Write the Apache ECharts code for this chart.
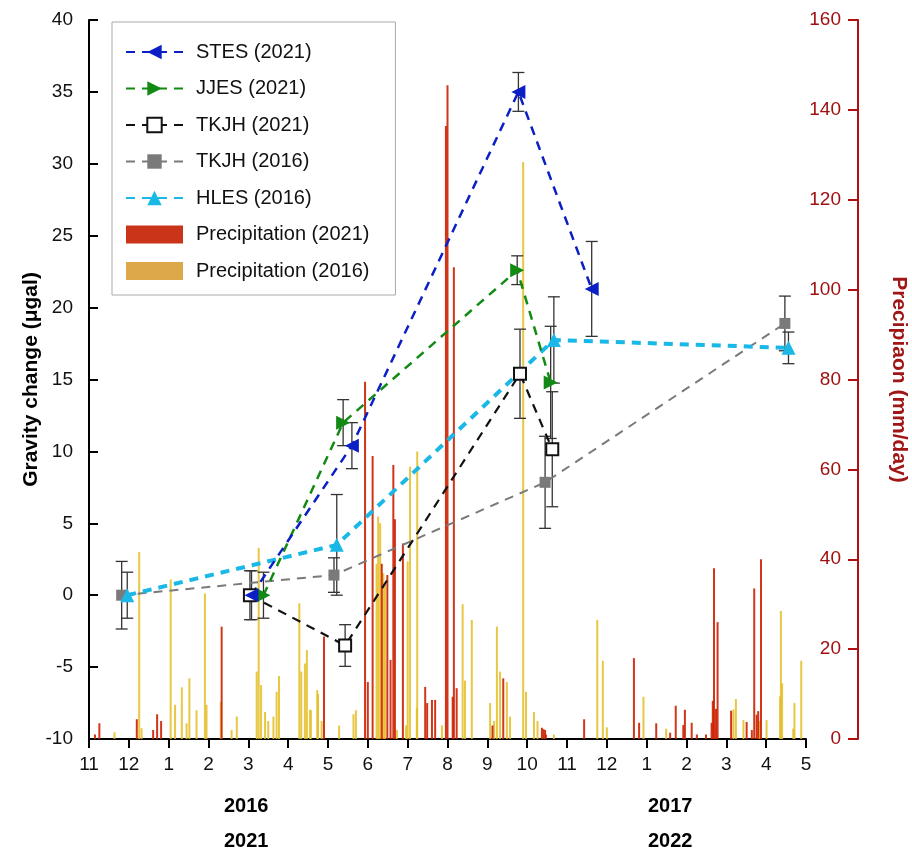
<!DOCTYPE html>
<html><head><meta charset="utf-8">
<script src="https://cdn.jsdelivr.net/npm/echarts@6/dist/echarts.min.js"></script>
<style>html,body{margin:0;padding:0;background:#fff}#c{width:912px;height:850px}</style>
</head><body><div id="c"></div>
<script>
// x = months since 1 Nov (0 = Nov, 18 = May of the year after next)
const monthLabels = ["11","12","1","2","3","4","5","6","7","8","9","10","11","12","1","2","3","4","5"];
// [x, gravity change (µgal), error]
const stes2021 = [[4.08,0,1.7],[6.6,10.4,1.6],[10.78,35.0,1.35],[12.62,21.3,3.3]];
const jjes2021 = [[4.38,0,1.6],[6.38,12.0,1.6],[10.75,22.6,1.0],[11.59,14.8,3.9]];
const tkjh2021 = [[4.04,0,1.7],[6.43,-3.5,1.45],[10.82,15.4,3.1],[11.63,10.15,4.0]];
const tkjh2016 = [[0.82,0,2.35],[6.15,1.4,1.2],[11.45,7.85,3.2],[17.47,18.9,1.9]];
const hles2016 = [[0.96,0,1.6],[6.22,3.5,3.5],[11.67,17.75,3.0],[17.56,17.2,1.1]];
// daily precipitation [x, mm/day]
const precip2021 = [[0.15,1],[0.26,3.5],[1.20,4.4],[1.61,2],[1.71,5.5],[1.81,4],[3.33,25],[5.90,22.8],
 [6.93,79.5],[7.00,12.7],[7.12,63],[7.35,39],[7.49,36.5],[7.57,17.6],[7.64,61],[7.68,48.9],[7.88,43.5],
 [8.44,11.6],[8.49,8],[8.61,8.7],[8.69,8.7],[8.96,136.4],[9.00,145.5],[9.13,9.4],[9.16,105],[9.23,11.3],
 [10.13,3],[10.40,13.5],[11.37,2.5],[11.41,2.2],[11.45,2],[11.47,1],[12.43,4.4],[13.68,18],[13.81,3.6],
 [14.24,3.5],[14.59,1.4],[14.73,7.4],[14.92,3.1],[14.96,6.5],[15.13,3.6],[15.26,1],[15.49,1],[15.63,3.6],
 [15.66,8.5],[15.69,38],[15.74,6.7],[15.78,26],[16.12,6.3],[16.51,3.8],[16.64,2],[16.70,33.5],[16.76,5.4],
 [16.80,6.2],[16.87,40]];
const precip2016 = [[0.64,1.5],[1.26,41.6],[1.32,2.4],[2.05,35.5],[2.16,7.6],[2.33,11.5],[2.45,3.5],[2.52,13.5],
 [2.70,6.4],[2.91,32.4],[2.95,7.6],[3.31,8.3],[3.58,2],[3.71,5],[4.21,15],[4.26,42.5],[4.32,12],[4.42,6],
 [4.50,4],[4.63,5],[4.71,10.5],[4.77,14],[5.28,30.2],[5.33,15],[5.42,16.8],[5.47,19.8],[5.55,6.5],[5.57,6.4],
 [5.73,10.9],[5.75,10],[5.84,4],[6.28,3],[6.64,5.5],[6.70,6.4],[7.22,39],[7.26,49.5],[7.31,48],[7.39,36.9],
 [7.43,34.7],[7.73,2],[7.96,3],[8.00,39.5],[8.06,60.6],[8.23,7],[8.24,64],[8.86,3],[9.38,30],[9.44,13],
 [9.61,26.5],[10.07,8],[10.17,4],[10.24,25],[10.32,15],[10.49,12.7],[10.57,5],[10.90,128.4],[10.97,10.5],
 [11.17,6],[11.26,4],[11.67,1],[12.76,26.5],[12.90,17.4],[13.00,2.6],[13.92,9.4],[14.49,2.3],[16.18,6.6],
 [16.24,8.9],[16.43,4.2],[16.82,4],[17.01,4.2],[17.35,9.5],[17.37,28.5],[17.40,12.4],[17.68,2.3],[17.71,8],
 [17.88,17.4]];

const FONT = 'Liberation Sans, Arial, sans-serif';
const chart = echarts.init(document.getElementById('c'));

function errData(arr){ return arr.map(d => [d[0], d[1]-d[2], d[1]+d[2]]); }
function errSeries(arr){
  return {type:'custom', yAxisIndex:0, z:4, silent:true, data: errData(arr),
    encode:{x:0, y:[1,2]},
    renderItem(params, api){
      const x = api.value(0);
      const lo = api.coord([x, api.value(1)]), hi = api.coord([x, api.value(2)]);
      const w = 6, st = {stroke:'#333', lineWidth:1.3};
      return {type:'group', children:[
        {type:'line', shape:{x1:lo[0],y1:lo[1],x2:hi[0],y2:hi[1]}, style:st},
        {type:'line', shape:{x1:hi[0]-w,y1:hi[1],x2:hi[0]+w,y2:hi[1]}, style:st},
        {type:'line', shape:{x1:lo[0]-w,y1:lo[1],x2:lo[0]+w,y2:lo[1]}, style:st}
      ]};
    }};
}
function lineSeries(name, arr, color, symbol, rot, size, width, dash, extra){
  return Object.assign({name, type:'line', yAxisIndex:0, z:6,
    data: arr.map(d => [d[0], d[1]]),
    symbol, symbolRotate: rot, symbolSize: size,
    itemStyle:{color}, lineStyle:{color, width, type: dash}}, extra||{});
}

chart.setOption({
  animation:false,
  textStyle:{fontFamily:FONT},
  grid:{left:89, right:106, top:20, bottom:111, containLabel:false, outerBoundsMode:'none'},
  legend:{
    left:112, top:22, orient:'vertical', backgroundColor:'#fff',
    borderColor:'#aaa', borderWidth:1, padding:[20,26,14,13],
    itemWidth:57, itemHeight:18, itemGap:16.5,
    textStyle:{fontSize:20, color:'#111', fontFamily:FONT, padding:[0,0,0,8]},
    data:[
      {name:'STES (2021)'},{name:'JJES (2021)'},{name:'TKJH (2021)'},{name:'TKJH (2016)'},{name:'HLES (2016)'},
      {name:'Precipitation (2021)', icon:'rect', itemStyle:{color:'#c41e00'}},
      {name:'Precipitation (2016)', icon:'rect', itemStyle:{color:'#d6992a'}}
    ]
  },
  xAxis:{type:'value', min:0, max:18, interval:1,
    axisLine:{onZero:false, lineStyle:{color:'#000', width:2}},
    axisTick:{length:9, lineStyle:{color:'#000', width:2}},
    axisLabel:{fontSize:19, color:'#111', margin:16, formatter: v => monthLabels[Math.round(v)]},
    splitLine:{show:false}},
  yAxis:[
    {type:'value', min:-10, max:40, interval:5, position:'left',
      name:'Gravity change (\u03bcgal)', nameLocation:'middle', nameGap:47, nameMoveOverlap:false,
      nameTextStyle:{fontSize:21, fontWeight:'bold', color:'#000'},
      axisLine:{show:true, onZero:false, lineStyle:{color:'#000', width:2}},
      axisTick:{show:true, inside:true, length:9, lineStyle:{color:'#000', width:2}},
      axisLabel:{fontSize:19, color:'#111', margin:16},
      splitLine:{show:false}},
    {type:'value', min:0, max:160, interval:20, position:'right', offset:52,
      name:'Precipiaon (mm/day)', nameLocation:'middle', nameGap:30, nameRotate:-90,
      nameTextStyle:{fontSize:21, fontWeight:'bold', color:'#a01515'},
      axisLine:{show:true, onZero:false, lineStyle:{color:'#b01010', width:2}},
      axisTick:{show:true, inside:true, length:10, lineStyle:{color:'#b01010', width:2}},
      axisLabel:{inside:true, fontSize:19, color:'#a01010', margin:17},
      splitLine:{show:false}}
  ],
  graphic:[
    {type:'text', left:224, top:796, style:{text:'2016', font:'bold 20px '+FONT, fill:'#000'}},
    {type:'text', left:224, top:831, style:{text:'2021', font:'bold 20px '+FONT, fill:'#000'}},
    {type:'text', left:648, top:796, style:{text:'2017', font:'bold 20px '+FONT, fill:'#000'}},
    {type:'text', left:648, top:831, style:{text:'2022', font:'bold 20px '+FONT, fill:'#000'}}
  ],
  series:[
    {name:'Precipitation (2016)', type:'bar', yAxisIndex:1, barWidth:2, barGap:'-100%', z:2,
      data: precip2016, itemStyle:{color:'#e3bd22', opacity:0.85}},
    {name:'Precipitation (2021)', type:'bar', yAxisIndex:1, barWidth:2, barGap:'-100%', z:3,
      data: precip2021, itemStyle:{color:'#cc2000', opacity:0.9}},
    errSeries(stes2021), errSeries(jjes2021), errSeries(tkjh2021), errSeries(tkjh2016), errSeries(hles2016),
    lineSeries('TKJH (2016)', tkjh2016, '#7a7a7a', 'rect', 0, 11, 2, [9,7]),
    lineSeries('HLES (2016)', hles2016, '#1ab8e6', 'triangle', 0, 14, 4, [9,7]),
    lineSeries('TKJH (2021)', tkjh2021, '#111', 'rect', 0, 12, 2.2, [9,7],
      {itemStyle:{color:'#fff', borderColor:'#111', borderWidth:2}}),
    lineSeries('JJES (2021)', jjes2021, '#138a13', 'triangle', -90, 14, 2.5, [9,7]),
    lineSeries('STES (2021)', stes2021, '#0b1fc4', 'triangle', 90, 14, 2.5, [9,7])
  ]
});
</script></body></html>
